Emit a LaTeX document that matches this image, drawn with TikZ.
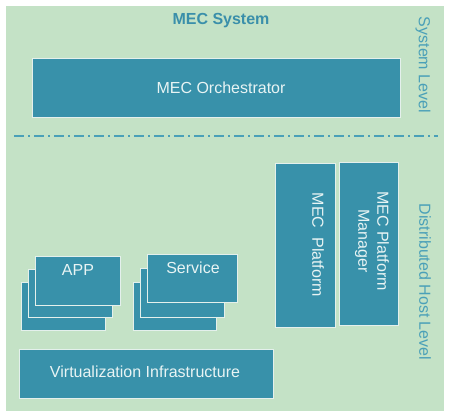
\documentclass[tikz,border=0pt]{standalone}
\usepackage{fontspec}
\setmainfont{Liberation Sans}
\definecolor{bggreen}{HTML}{C4E2C6}
\definecolor{boxteal}{HTML}{3891AA}
\definecolor{titleteal}{HTML}{3A8FAA}
\definecolor{sideteal}{HTML}{4AA0B8}
\definecolor{boxtext}{HTML}{E8F4F4}
\definecolor{boxedge}{HTML}{E4F0EC}
\begin{document}
\begin{tikzpicture}[x=1pt,y=-1pt,
  box/.style={fill=boxteal,draw=boxedge,line width=0.7pt},
  boxlabel/.style={text=boxtext,font=\fontsize{16}{19}\selectfont,inner sep=0pt,align=center},
  sidelabel/.style={text=sideteal,font=\fontsize{16}{19}\selectfont,inner sep=0pt,rotate=-90},
  sep/.style={draw=sideteal,line width=1.5pt,dash pattern=on 10pt off 4pt on 2pt off 4pt}]
\useasboundingbox (0,0) rectangle (450,417);
\fill[bggreen] (6,6) rectangle (444,411);
\node[font=\fontsize{16}{19}\selectfont\bfseries,text=titleteal,inner sep=0pt] (title) at (221,21) {MEC System};
% orchestrator
\draw[box] (32,58) rectangle (400,117);
\node[boxlabel] (orch) at (221,88) {MEC Orchestrator};
% separator
\coordinate (sepL) at (14,136);
\coordinate (sepR) at (438,136);
\draw[sep] (sepL) -- (sepR);
% side labels
\node[sidelabel] (syslevel) at (423,65) {System Level};
\node[sidelabel] (hostlevel) at (425,282) {Distributed Host Level};
% MEC platform
\draw[box] (275,163) rectangle (335,327);
\node[boxlabel,rotate=-90] (mecp) at (318,245) {MEC\ \ Platform};
\draw[box] (339,162) rectangle (398,325);
\node[boxlabel,rotate=-90] (mecpm) at (372,241) {MEC Platform\\Manager};
% APP stack
\draw[box] (21,282) rectangle (105,330);
\draw[box] (28,269) rectangle (112,317);
\draw[box] (35,256) rectangle (120,305);
\node[boxlabel] (app) at (78,270) {APP};
% Service stack
\draw[box] (133,282) rectangle (216,330);
\draw[box] (140,268) rectangle (224,317);
\draw[box] (147,254) rectangle (237,302);
\node[boxlabel] (svc) at (193,268) {Service};
% virtualization
\draw[box] (19,349) rectangle (273,398);
\node[boxlabel] (virt) at (145,372) {Virtualization Infrastructure};
\end{tikzpicture}
\end{document}
